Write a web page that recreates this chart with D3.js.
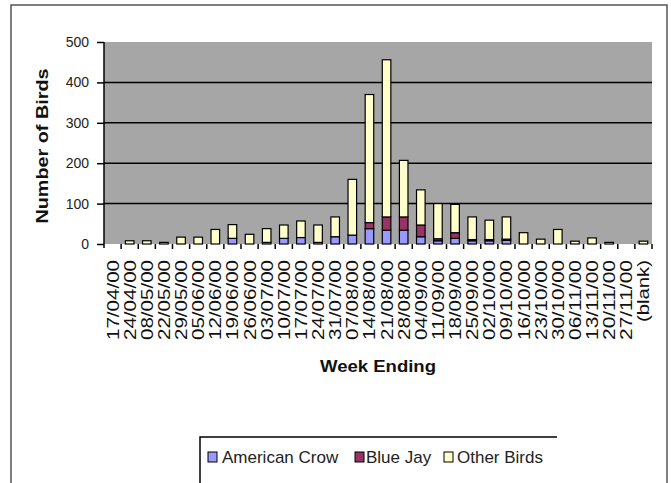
<!DOCTYPE html>
<html>
<meta charset="utf-8">
<style>
body { margin: 0; background: #fff; }
text { font-family: Arial, "Liberation Sans", sans-serif; }
</style>
<script src="https://d3js.org/d3.v7.min.js"></script>
<body>
<div id="chart"></div>
<script>
// week labels on the x axis
var weeks = ["17/04/00","24/04/00","08/05/00","22/05/00","29/05/00","05/06/00","12/06/00","19/06/00",
  "26/06/00","03/07/00","10/07/00","17/07/00","24/07/00","31/07/00","07/08/00","14/08/00",
  "21/08/00","28/08/00","04/09/00","11/09/00","18/09/00","25/09/00","02/10/00","09/10/00",
  "16/10/00","23/10/00","30/10/00","06/11/00","13/11/00","20/11/00","27/11/00","(blank)"];

// series values
var crow  = [0,0,0,0,0,0,0,14,0,4,14,16,4,18,22,38,34,34,18,8,14,8,8,9,0,0,0,0,0,0,0,0];
var jay   = [0,0,0,0,0,0,0,0,0,0,0,0,0,0,0,15,33,33,29,5,14,3,3,3,0,0,0,0,0,0,0,0];
var other = [0,8,8,4,17,17,36,34,24,34,33,41,43,49,138,317,389,140,87,87,70,56,48,55,28,12,36,7,15,4,0,7];

var seriesNames = ["American Crow","Blue Jay","Other Birds"];
var colors = ["#9999ff","#993366","#ffffcc"];
var yTicks = [0,100,200,300,400,500];

var W = 671, H = 483;
var pLeft = 104, pRight = 652, pTop = 42, pBottom = 244;

var svg = d3.select("#chart").append("svg")
  .attr("width", W).attr("height", H);

// outer frame
svg.append("rect")
  .attr("x", 11).attr("y", 5).attr("width", 656).attr("height", 500)
  .attr("fill", "none").attr("stroke", "#555").attr("stroke-width", 1.5);

// build rows for stacking
var rows = weeks.map(function(w, i) {
  return {week: w, "American Crow": crow[i], "Blue Jay": jay[i], "Other Birds": other[i]};
});
var stacked = d3.stack().keys(seriesNames)(rows);

var x = d3.scaleBand().domain(weeks).range([pLeft, pRight]).paddingInner(0.5).paddingOuter(0.25);
var xTick = d3.scaleBand().domain(weeks).range([pLeft, pRight]);
var y = d3.scaleLinear().domain([0, 500]).range([pBottom, pTop]);

// plot area
svg.append("rect")
  .attr("x", pLeft).attr("y", pTop)
  .attr("width", pRight - pLeft).attr("height", pBottom - pTop)
  .attr("fill", "#a6a6a6");

// gridlines
svg.append("g").selectAll("line")
  .data(yTicks.filter(function(d){ return d > 0 && d < 500; }))
  .enter().append("line")
    .attr("x1", pLeft).attr("x2", pRight)
    .attr("y1", function(d){ return y(d); }).attr("y2", function(d){ return y(d); })
    .attr("stroke", "#000").attr("stroke-width", 1.5);

// bars
svg.append("g").selectAll("g")
  .data(stacked)
  .enter().append("g")
    .attr("fill", function(d, i){ return colors[i]; })
  .selectAll("rect")
  .data(function(d){ return d.filter(function(s){ return s[1] - s[0] > 0; }); })
  .enter().append("rect")
    .attr("x", function(d){ return x(d.data.week); })
    .attr("width", x.bandwidth())
    .attr("y", function(d){ return y(d[1]); })
    .attr("height", function(d){ return y(d[0]) - y(d[1]); })
    .attr("stroke", "#000").attr("stroke-width", 1.2);

// y axis
var yAxis = svg.append("g")
  .attr("transform", "translate(" + pLeft + ",0)")
  .call(d3.axisLeft(y).tickValues(yTicks).tickSize(7).tickPadding(8));
yAxis.select(".domain").attr("stroke", "#000").attr("stroke-width", 1.5).attr("d", "M0," + pTop + "V" + (pBottom + 4));
yAxis.selectAll(".tick line").attr("stroke", "#000").attr("stroke-width", 1.5);
yAxis.selectAll(".tick text").attr("font-size", 14).attr("fill", "#222").attr("font-family", "Arial, 'Liberation Sans', sans-serif");

// x ticks between categories
svg.append("g").selectAll("line")
  .data(weeks)
  .enter().append("line")
    .attr("x1", function(d){ return xTick(d) + xTick.bandwidth(); })
    .attr("x2", function(d){ return xTick(d) + xTick.bandwidth(); })
    .attr("y1", pBottom).attr("y2", pBottom + 5)
    .attr("stroke", "#000").attr("stroke-width", 1.5);

// x tick labels, rotated
svg.append("g").selectAll("text")
  .data(weeks)
  .enter().append("text")
    .attr("transform", function(d){
      return "translate(" + (xTick(d) + xTick.bandwidth() / 2 + 6) + "," + 260 + ") rotate(-90)";
    })
    .attr("text-anchor", "end")
    .attr("font-size", 17)
    .attr("fill", "#111")
    .attr("textLength", function(d){ return d === "(blank)" ? 62 : 80; })
    .attr("lengthAdjust", "spacingAndGlyphs")
    .text(function(d){ return d; });

// axis titles
svg.append("text")
  .attr("x", 378).attr("y", 372)
  .attr("text-anchor", "middle")
  .attr("font-size", 16).attr("font-weight", "bold").attr("fill", "#111")
  .attr("textLength", 116).attr("lengthAdjust", "spacingAndGlyphs")
  .text("Week Ending");

svg.append("text")
  .attr("transform", "translate(48,146) rotate(-90)")
  .attr("text-anchor", "middle")
  .attr("font-size", 16).attr("font-weight", "bold").attr("fill", "#111")
  .attr("textLength", 155).attr("lengthAdjust", "spacingAndGlyphs")
  .text("Number of Birds");

// legend
var lg = svg.append("g");
lg.append("path")
  .attr("d", "M200,500V437H557")
  .attr("fill", "none").attr("stroke", "#000").attr("stroke-width", 1.5);
var legendX = [208, 355, 444];
var textX = [222, 366, 457];
seriesNames.forEach(function(name, i) {
  lg.append("rect")
    .attr("x", legendX[i]).attr("y", 452).attr("width", 9).attr("height", 10)
    .attr("fill", colors[i]).attr("stroke", "#000").attr("stroke-width", 1);
  lg.append("text")
    .attr("x", textX[i]).attr("y", 463)
    .attr("font-size", 17).attr("fill", "#222")
    .text(name);
});
</script>
</body>
</html>
